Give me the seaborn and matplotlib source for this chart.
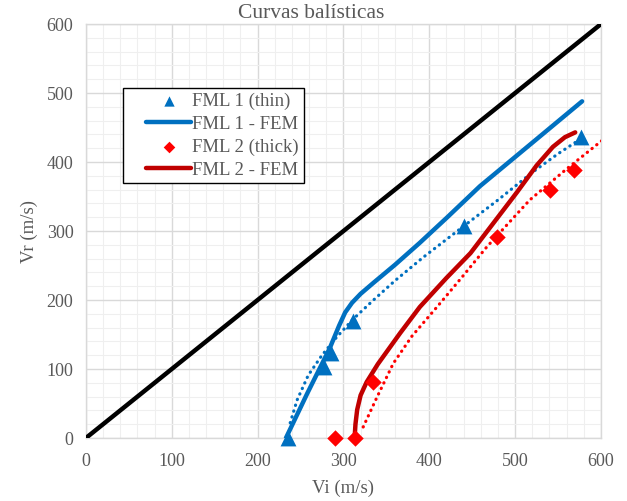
import numpy as np
import pandas as pd
import seaborn as sns
import matplotlib.pyplot as plt
from matplotlib.ticker import MultipleLocator
from matplotlib.legend_handler import HandlerLine2D, HandlerPathCollection
from matplotlib.lines import Line2D
from matplotlib.collections import PathCollection

# Experimental points
fml1_vi = [235, 277, 285, 311, 440, 577]
fml1_vr = [0, 103, 123, 170, 307, 436]
fml2_vi = [290, 313, 334, 479, 541, 568]
fml2_vr = [0, 0, 81, 292, 360, 388]

# FEM curves
fem1_vi = [233, 258, 284, 295, 302, 310, 320, 335, 360, 389, 421, 459, 520, 578]
fem1_vr = [0, 65, 130, 163, 182, 196, 209, 225, 251, 283, 320, 365, 428, 488]
fem2_vi = [313, 314, 316, 320, 327, 340, 366, 389, 420, 448, 475, 502, 525, 544, 558, 570]
fem2_vr = [0, 20, 41, 62, 81, 107, 152, 190, 232, 268, 312, 356, 395, 422, 436, 443]

# trendlines (dotted)
trend1_vi = [238, 246, 259, 275, 292, 311, 335, 360, 393, 440, 480, 520, 550, 572]
trend1_vr = [22, 55, 91, 120, 146, 172, 200, 228, 262, 307, 345, 385, 412, 430]
trend2_vi = [323, 339, 358, 380, 409, 438, 467, 517, 560, 601]
trend2_vr = [16, 59, 108, 148, 190, 233, 277, 345, 390, 431]

ref_v = [0, 600]

sns.set_style("whitegrid")
plt.rcParams['font.family'] = ['Liberation Serif', 'DejaVu Serif']

fig = plt.figure(figsize=(6.27, 5.01), dpi=100)
ax = fig.add_axes([0.137, 0.1257, 0.8215, 0.8263])

grey = '#595959'
blue = '#0070C0'
dred = '#C00000'
red = '#FF0000'

sns.lineplot(x=ref_v, y=ref_v, color='black', lw=3.2, ax=ax, zorder=3)
sns.lineplot(x=trend1_vi, y=trend1_vr, color=blue, lw=2.3, ax=ax, sort=False,
             estimator=None, linestyle=(0, (0.1, 1.8)), dash_capstyle='round', zorder=3)
sns.lineplot(x=trend2_vi, y=trend2_vr, color=red, lw=2.3, ax=ax, sort=False,
             estimator=None, linestyle=(0, (0.1, 1.8)), dash_capstyle='round', zorder=3)
sns.lineplot(x=fem1_vi, y=fem1_vr, color=blue, lw=3.2, ax=ax, sort=False,
             estimator=None, solid_capstyle='round', solid_joinstyle='round',
             label='FML 1 - FEM', zorder=4)
sns.lineplot(x=fem2_vi, y=fem2_vr, color=dred, lw=3.2, ax=ax, sort=False,
             estimator=None, solid_capstyle='round', solid_joinstyle='round',
             label='FML 2 - FEM', zorder=4)
sns.scatterplot(x=fml1_vi, y=fml1_vr, marker='^', s=130, color=blue, linewidth=0,
                ax=ax, label='FML 1 (thin)', zorder=5, clip_on=False)
sns.scatterplot(x=fml2_vi, y=fml2_vr, marker='D', s=70, color=red, linewidth=0,
                ax=ax, label='FML 2 (thick)', zorder=5, clip_on=False)

ax.set_xlim(0, 600)
ax.set_ylim(0, 600)
ax.xaxis.set_major_locator(MultipleLocator(100))
ax.yaxis.set_major_locator(MultipleLocator(100))
ax.xaxis.set_minor_locator(MultipleLocator(20))
ax.yaxis.set_minor_locator(MultipleLocator(20))
ax.grid(which='major', color='#d9d9d9', lw=1.0)
ax.grid(which='minor', color='#efefef', lw=0.8)
ax.tick_params(which='both', length=0, labelsize=13, labelcolor=grey)
ax.tick_params(axis='x', pad=11)
ax.tick_params(axis='y', pad=9)
for s in ax.spines.values():
    s.set_color('#d9d9d9')
    s.set_linewidth(1.0)

ax.set_xlabel('Vi (m/s)', fontsize=13.5, color=grey)
ax.set_ylabel('Vr (m/s)', fontsize=13.5, color=grey)
ax.xaxis.set_label_coords(0.5, -0.1)
ax.yaxis.set_label_coords(-0.093, 0.5)
fig.text(0.497, 0.973, 'Curvas balísticas', fontsize=15.5, color=grey,
         ha='center', va='center')

handles, labels = ax.get_legend_handles_labels()
order = ['FML 1 (thin)', 'FML 1 - FEM', 'FML 2 (thick)', 'FML 2 - FEM']
hmap = dict(zip(labels, handles))
hmaps = {Line2D: HandlerLine2D(xpad=1.0),
         PathCollection: HandlerPathCollection(xpad=1.0)}
leg = ax.legend([hmap[k] for k in order], order, loc='upper left',
                bbox_to_anchor=(0.0718, 0.845), fontsize=13.5, frameon=True,
                fancybox=False, edgecolor='black', framealpha=1,
                handlelength=3.4, borderpad=0.25, labelspacing=0.3,
                handletextpad=0.05, borderaxespad=0, handler_map=hmaps)
leg.get_frame().set_linewidth(1.0)
for t in leg.get_texts():
    t.set_color(grey)
for h in leg.legend_handles:
    if isinstance(h, PathCollection):
        h.set_sizes([55] if h.get_paths() and len(h.get_paths()[0].vertices) < 5 else [35])

fig.savefig('out.png', dpi=100)
